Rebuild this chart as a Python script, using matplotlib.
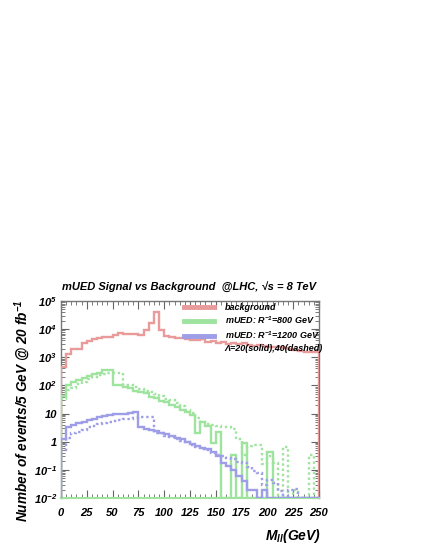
import numpy as np
import matplotlib
matplotlib.use("Agg")
import matplotlib.pyplot as plt
from matplotlib.lines import Line2D
from matplotlib.ticker import MultipleLocator, LogLocator, FuncFormatter, NullFormatter

# ROOT-like look: bold italic helvetica-ish everywhere
plt.rcParams["font.family"] = ["Liberation Sans", "DejaVu Sans"]
plt.rcParams["font.weight"] = "bold"
plt.rcParams["font.style"] = "italic"
plt.rcParams["mathtext.fontset"] = "custom"
plt.rcParams["mathtext.rm"] = "Liberation Sans:italic:bold"
plt.rcParams["mathtext.it"] = "Liberation Sans:italic:bold"
plt.rcParams["mathtext.bf"] = "Liberation Sans:italic:bold"

# 5 GeV bins, 0-250 GeV
edges = np.arange(0, 255, 5)

# events / 5 GeV @ 20 fb^-1 (0 = empty bin)
background = [450, 1300, 1900, 2000, 3200, 3800, 4600, 4700, 5400, 5400,
              6200, 7200, 6900, 6600, 6600, 6300, 9500, 16600, 40000, 9500,
              5500, 5200, 5000, 4700, 4300, 4100, 4200, 4400, 3500, 3800,
              3300, 3400, 3000, 3200, 3000, 3100, 2750, 2600, 2700, 2500,
              2400, 2300, 2350, 2150, 2000, 1750, 1650, 1600, 1500, 1480]

r800_l20 = [42, 100, 130, 160, 190, 215, 250, 280, 340, 340,
            100, 100, 90, 80, 66, 60, 52, 40, 35, 28,
            26, 21, 17, 13, 11, 9, 2.0, 5.0, 3.5, 0.87,
            2.3, 0, 0, 0.35, 0, 0.9, 0, 0, 0, 0,
            0.44, 0, 0, 0, 0, 0, 0, 0, 0, 0]

r800_l40 = [32, 70, 83, 112, 130, 165, 200, 230, 260, 275,
            280, 280, 105, 100, 90, 76, 66, 58, 48, 42,
            33, 30, 23, 19, 13, 10.5, 7, 5.1, 4.2, 3.9,
            3.5, 3.4, 3.2, 2.9, 1.25, 0.35, 0.7, 0.75, 0.75, 0.16,
            0.32, 0.17, 0, 0.66, 0, 0.02, 0, 0, 0.34, 0]

r1200_l20 = [1.25, 3.2, 4.0, 4.5, 5.0, 5.9, 6.3, 7.6, 7.9, 8.9,
             9.3, 10, 10, 10.5, 11.7, 3.2, 2.8, 2.6, 2.4, 2.1,
             1.9, 1.65, 1.4, 1.2, 1.0, 0.8, 0.71, 0.6, 0.55, 0.44,
             0.32, 0.18, 0.14, 0.1, 0.063, 0.04, 0.019, 0.019, 0, 0.019,
             0, 0, 0, 0, 0, 0, 0, 0, 0, 0]

r1200_l40 = [0.5, 1.4, 2.0, 2.2, 2.6, 3.2, 3.5, 4.2, 4.6, 5.2,
             5.6, 6.0, 6.3, 6.6, 7.1, 7.6, 7.6, 7.6, 2.1, 2.0,
             1.66, 1.5, 1.2, 1.05, 0.95, 0.76, 0.66, 0.56, 0.5, 0.4,
             0.34, 0.32, 0.26, 0.24, 0.19, 0.17, 0.126, 0.09, 0.076, 0.028,
             0.045, 0.035, 0.018, 0, 0.02, 0.021, 0, 0, 0, 0]

ytick_text = {5: "10$^{5}$", 4: "10$^{4}$", 3: "10$^{3}$", 2: "10$^{2}$",
              1: "10", 0: "1", -1: "10$^{-1}$", -2: "10$^{-2}$"}

RED = "#e99a9a"
GREEN = "#9ee39e"
BLUE = "#9d9de8"
ymin, ymax = 1e-2, 1e5
dotted = (0, (1.0, 1.2))


def on_floor(v):
    v = np.asarray(v, dtype=float)
    return np.where(v > 0, v, ymin)


fig = plt.figure(figsize=(4.32, 5.59), dpi=100)
ax = fig.add_axes([61 / 432, 1 - 498 / 559, 258 / 432, 197 / 559])
ax.set_yscale("log")

ax.stairs(on_floor(background), edges, baseline=ymin, color=RED, lw=1.7, zorder=3)
ax.stairs(on_floor(r800_l20), edges, baseline=ymin, color=GREEN, lw=1.7, zorder=3)
ax.stairs(on_floor(r800_l40), edges, baseline=ymin, color=GREEN, lw=1.7, ls=dotted, zorder=3)
ax.stairs(on_floor(r1200_l20), edges, baseline=ymin, color=BLUE, lw=1.7, zorder=3)
ax.stairs(on_floor(r1200_l40), edges, baseline=ymin, color=BLUE, lw=1.7, ls=dotted, zorder=3)

ax.set_xlim(0, 250)
ax.set_ylim(ymin, ymax)
ax.xaxis.set_major_locator(MultipleLocator(25))
ax.xaxis.set_minor_locator(MultipleLocator(5))
ax.yaxis.set_major_locator(LogLocator(base=10, numticks=20))
ax.yaxis.set_minor_locator(LogLocator(base=10, subs=np.arange(2, 10), numticks=20))
ax.yaxis.set_minor_formatter(NullFormatter())
ax.yaxis.set_major_formatter(FuncFormatter(
    lambda v, pos: ytick_text.get(int(round(np.log10(v))), "")))

ax.tick_params(which="both", direction="in", top=True, right=True,
               color="#666666", labelsize=8)
ax.tick_params(which="major", length=6, width=0.8)
ax.tick_params(which="minor", length=3, width=0.6)
ax.tick_params(axis="x", pad=7)
ax.tick_params(axis="y", pad=3)
for s in ax.spines.values():
    s.set_color("#777777")
    s.set_linewidth(1.0)
ax.spines["bottom"].set_color(GREEN)
ax.spines["bottom"].set_linewidth(1.5)

handles = [Line2D([], [], color=RED, lw=3.5),
           Line2D([], [], color=GREEN, lw=3.5),
           Line2D([], [], color=BLUE, lw=3.5),
           Line2D([], [], color="none")]
labels = ["background", "mUED: R$^{-1}$=800 GeV", "mUED: R$^{-1}$=1200 GeV",
          "Λ=20(solid),40(dashed)"]
ax.legend(handles, labels, loc="upper left", bbox_to_anchor=(0.47, 1.0),
          frameon=False, fontsize=6.5, handlelength=3.3, handletextpad=1.2,
          labelspacing=0.32, borderpad=0.2, borderaxespad=0)

fig.text(62 / 432, 1 - 287 / 559, "mUED Signal vs Background  @LHC, √s = 8 TeV",
         fontsize=8, ha="left", va="center")
fig.text(23 / 432, 1 - 299 / 559, "Number of events/5 GeV @ 20 fb$^{-1}$",
         rotation=90, fontsize=9.8, ha="center", va="top")
fig.text(321 / 432, 1 - 536 / 559, "M$_{ll}$(GeV)", fontsize=10,
         ha="right", va="center")

fig.savefig("out.png", dpi=100)
